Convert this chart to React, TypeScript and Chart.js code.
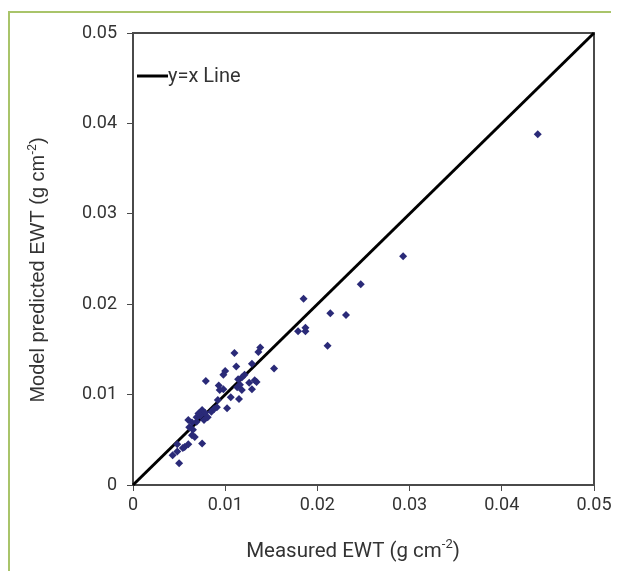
import { useEffect, useRef } from "react";
import { Chart, registerables } from "chart.js";

Chart.register(...registerables);

const measured = [
  0.0439, 0.0293, 0.0247, 0.0185, 0.0214, 0.0231, 0.0187, 0.0179, 0.0187, 0.0211,
  0.0153, 0.011, 0.0138, 0.0136, 0.0129, 0.0112, 0.01, 0.0098, 0.0079, 0.0121,
  0.0118, 0.0114, 0.0134, 0.0126, 0.0129, 0.0093, 0.0098, 0.0113, 0.0106, 0.0115,
  0.0092, 0.0102, 0.0091, 0.0075, 0.0078, 0.0073, 0.0081, 0.0069, 0.006, 0.0064,
  0.0061, 0.0069, 0.0065, 0.0064, 0.0067, 0.0075, 0.0048, 0.006, 0.0056, 0.0054,
  0.0043, 0.0048, 0.005, 0.0116, 0.0118, 0.0132, 0.0094, 0.0071, 0.0077, 0.0085,
  0.0088,
];
const predicted = [
  0.0388, 0.0253, 0.0222, 0.0206, 0.019, 0.0188, 0.0174, 0.017, 0.017, 0.0154,
  0.0129, 0.0146, 0.0152, 0.0147, 0.0134, 0.0131, 0.0126, 0.0122, 0.0115, 0.0122,
  0.0119, 0.0117, 0.0114, 0.0113, 0.0106, 0.011, 0.0106, 0.0108, 0.0097, 0.0095,
  0.0094, 0.0085, 0.0086, 0.0083, 0.008, 0.0077, 0.0075, 0.0075, 0.0072, 0.0069,
  0.0064, 0.007, 0.0061, 0.0055, 0.0053, 0.0046, 0.0045, 0.0045, 0.0042, 0.0041,
  0.0033, 0.0037, 0.0024, 0.0111, 0.0105, 0.0116, 0.0105, 0.0079, 0.0072, 0.0081,
  0.0084,
];
const lineX = [0, 0.05];
const lineY = [0, 0.05];
const tickValues = [0, 0.01, 0.02, 0.03, 0.04, 0.05];
const legendLabel = "y=x Line";
const xTitle = "Measured EWT (g cm";
const yTitle = "Model predicted EWT (g cm";
const titleSup = "-2";

const TEXT = "#333333";

function drawTitle(ctx: CanvasRenderingContext2D, text: string, family: string, size: number) {
  const sup = Math.round(size * 0.62);
  ctx.font = `${size}px ${family}`;
  const w1 = ctx.measureText(text).width;
  ctx.font = `${sup}px ${family}`;
  const w2 = ctx.measureText(titleSup).width;
  ctx.font = `${size}px ${family}`;
  const w3 = ctx.measureText(")").width;
  const total = w1 + w2 + w3;
  let x = -total / 2;
  ctx.textAlign = "left";
  ctx.textBaseline = "alphabetic";
  ctx.fillText(text, x, 0);
  x += w1;
  ctx.font = `${sup}px ${family}`;
  ctx.fillText(titleSup, x, -size * 0.42);
  x += w2;
  ctx.font = `${size}px ${family}`;
  ctx.fillText(")", x, 0);
}

const decorPlugin = {
  id: "decor",
  beforeDatasetsDraw(chart: any) {
    const { ctx, chartArea } = chart;
    ctx.save();
    ctx.strokeStyle = "#4a4a4a";
    ctx.lineWidth = 2;
    ctx.strokeRect(chartArea.left, chartArea.top, chartArea.right - chartArea.left, chartArea.bottom - chartArea.top);
    ctx.restore();
  },
  afterDraw(chart: any) {
    const { ctx, chartArea } = chart;
    ctx.save();
    // legend
    const ly = chartArea.top + 43;
    ctx.strokeStyle = "#000";
    ctx.lineWidth = 3;
    ctx.beginPath();
    ctx.moveTo(chartArea.left + 4, ly);
    ctx.lineTo(chartArea.left + 35, ly);
    ctx.stroke();
    ctx.fillStyle = TEXT;
    ctx.font = "20px Roboto";
    ctx.textAlign = "left";
    ctx.textBaseline = "middle";
    ctx.fillText(legendLabel, chartArea.left + 35, ly + 1);
    // x title
    ctx.save();
    ctx.translate(345, 549);
    drawTitle(ctx, xTitle, "Roboto", 20.5);
    ctx.restore();
    // y title
    ctx.save();
    ctx.translate(36, 262);
    ctx.rotate(-Math.PI / 2);
    drawTitle(ctx, yTitle, "'Liberation Sans'", 20);
    ctx.restore();
    ctx.restore();
  },
};

export default function App() {
  const ref = useRef<HTMLCanvasElement | null>(null);
  useEffect(() => {
    if (!ref.current) return;
    const points = measured.map((x, i) => ({ x, y: predicted[i] }));
    const line = lineX.map((x, i) => ({ x, y: lineY[i] }));
    const chart = new Chart(ref.current, {
      type: "scatter",
      data: {
        datasets: [
          {
            type: "line",
            label: legendLabel,
            data: line,
            borderColor: "#000",
            borderWidth: 3,
            pointRadius: 0,
            clip: false,
            order: 2,
          } as any,
          {
            label: "points",
            data: points,
            pointStyle: "rectRot",
            pointRadius: 4,
            backgroundColor: "#2a2a78",
            borderColor: "#2a2a78",
            borderWidth: 0,
            order: 1,
          },
        ],
      },
      options: {
        responsive: false,
        animation: false,
        layout: { padding: { left: 0, right: 25, top: 25, bottom: 0 } },
        plugins: { legend: { display: false }, tooltip: { enabled: false } },
        scales: {
          x: {
            type: "linear",
            min: 0,
            max: 0.05,
            afterBuildTicks: (s: any) => {
              s.ticks = tickValues.map((v) => ({ value: v }));
            },
            afterFit: (s: any) => {
              s.height = 86;
            },
            grid: { display: true, drawOnChartArea: false, tickLength: 6, color: "#4a4a4a", lineWidth: 1 },
            border: { display: false },
            ticks: {
              color: TEXT,
              font: { family: "Roboto", size: 18 },
              padding: 4,
              maxRotation: 0,
              callback: (v: any) => String(Number(v)),
            },
          },
          y: {
            type: "linear",
            min: 0,
            max: 0.05,
            afterBuildTicks: (s: any) => {
              s.ticks = tickValues.map((v) => ({ value: v }));
            },
            afterFit: (s: any) => {
              s.width = 125;
            },
            grid: { display: true, drawOnChartArea: false, tickLength: 6, color: "#4a4a4a", lineWidth: 1 },
            border: { display: false },
            ticks: {
              color: TEXT,
              font: { family: "Roboto", size: 18 },
              padding: 10,
              callback: (v: any) => String(Number(v)),
            },
          },
        },
      },
      plugins: [decorPlugin],
    });
    return () => chart.destroy();
  }, []);
  return (
    <div style={{ position: "relative", width: 611, height: 563 }}>
      <div
        style={{
          position: "absolute",
          top: 3,
          left: 0,
          right: 0,
          bottom: 0,
          borderTop: "2px solid #a9c46a",
          borderLeft: "2px solid #a9c46a",
        }}
      />
      <canvas
        ref={ref}
        width={611}
        height={563}
        style={{ position: "absolute", top: 0, left: 0, width: 611, height: 563 }}
      />
    </div>
  );
}
